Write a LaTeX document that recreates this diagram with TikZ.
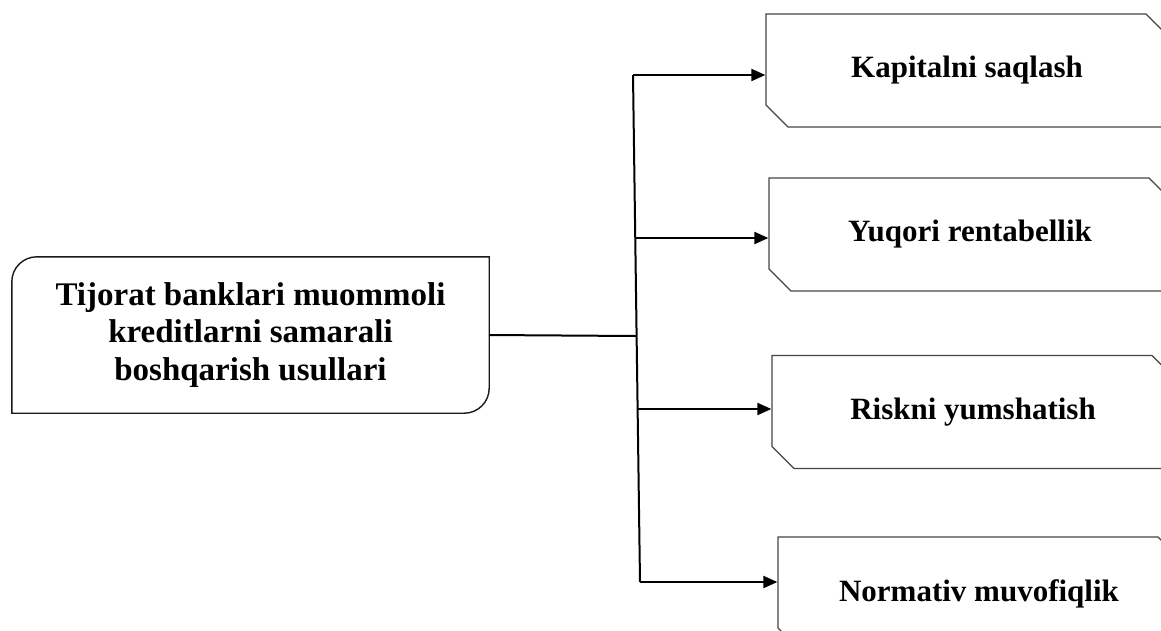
\documentclass[tikz,border=0pt]{standalone}
\usepackage{fontspec}
\setmainfont{Liberation Serif}
\usetikzlibrary{shapes.misc,arrows.meta}

\definecolor{boxgray}{RGB}{70,70,70}

\begin{document}
\begin{tikzpicture}[x=1pt,y=1pt,
  goalbox/.style={minimum width=477pt,minimum height=156pt,inner sep=0pt,align=center,
    font=\fontsize{33}{37.5}\selectfont\bfseries},
  goalline/.style={draw=black!90,line width=1.4pt},
  aimbox/.style={chamfered rectangle,chamfered rectangle corners={north east,south west},
    chamfered rectangle sep=11pt,minimum width=402pt,minimum height=113pt,inner sep=0pt,
    draw=boxgray,line width=1.3pt,font=\fontsize{31}{36}\selectfont\bfseries},
  link/.style={draw=black,line width=2pt},
  linkarrow/.style={link,-{Triangle[length=14pt,width=12pt]}}]

  \path[use as bounding box,fill=white] (0,0) rectangle (1161,-630);
  \clip (0,0) rectangle (1161,-630);

  \node[goalbox] (goal) at (250.5,-335) {Tijorat banklari muommoli\\kreditlarni samarali\\boshqarish usullari};
  \draw[goalline] (goal.south west) -- ([yshift=-25pt]goal.north west)
    arc[start angle=180,end angle=90,radius=25] -- (goal.north east)
    -- ([yshift=25pt]goal.south east) arc[start angle=0,end angle=-90,radius=25] -- cycle;

  \foreach \n/\cx/\cy/\bx/\by/\txt in {1/967/70.5/633/75/Kapitalni saqlash,
    2/970/234.5/635/238/Yuqori rentabellik,
    3/973/412/637/409/Riskni yumshatish,
    4/979/593.5/640/582/Normativ muvofiqlik}
  {
    \node[aimbox] (aim\n) at (\cx,-\cy) {\txt};
    \coordinate (branch\n) at (\bx,-\by);
  }

  \coordinate (hub) at (636,-336);
  \draw[link] (goal.east) -- (hub);
  \draw[link] (branch1) -- (branch4);
  \foreach \n in {1,...,4}
    \draw[linkarrow] (branch\n) -- (branch\n -| aim\n.west);

\end{tikzpicture}
\end{document}
